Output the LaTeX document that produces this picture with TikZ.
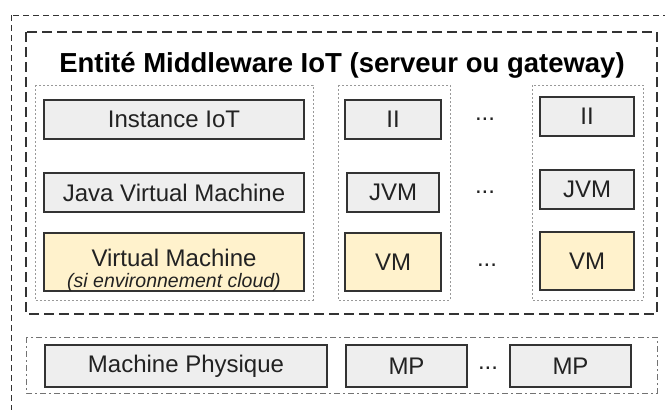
\documentclass[tikz,border=0pt]{standalone}
\usepackage{fontspec}
\setmainfont{Liberation Sans}
\definecolor{boxgray}{HTML}{EEEEEE}
\definecolor{boxyellow}{HTML}{FFF2CC}
\definecolor{edge}{HTML}{333333}
\definecolor{dotgray}{HTML}{999999}
\definecolor{ink}{HTML}{222222}
\begin{document}
\begin{tikzpicture}[x=1pt,y=-1pt,
  gbox/.style={draw=edge,line width=1.3pt,fill=boxgray,inner sep=0pt,font=\fontsize{24}{26}\selectfont,text=ink},
  ybox/.style={gbox,fill=boxyellow},
  colbox/.style={draw=dotgray,line width=0.9pt,dash pattern=on 2pt off 2pt},
  dots/.style={font=\fontsize{24}{26}\selectfont,text=ink,inner sep=0pt,anchor=base}]
\useasboundingbox (0,0) rectangle (665,410);
\clip (0,0) rectangle (665,410);
% outer dashed box (extends past the picture)
\draw[edge,line width=1pt,dash pattern=on 6pt off 4pt] (11,15) rectangle (690,440);
% inner dashed box
\draw[edge,line width=1.4pt,dash pattern=on 10pt off 5pt] (26,32) rectangle (657,314);
\node[font=\bfseries\fontsize{27.5}{30}\selectfont,inner sep=0pt,anchor=base,text=black] (title) at (342,72) {Entité Middleware IoT (serveur ou gateway)};
% dotted columns
\draw[colbox] (35,85) rectangle (313,300);
\draw[colbox] (338,85) rectangle (450,300);
\draw[colbox] (532,85) rectangle (643,300);
% column 1
\node[gbox,minimum width=260pt,minimum height=39pt] (ii1) at (174,119.5) {Instance IoT};
\node[gbox,minimum width=260pt,minimum height=39pt] (jvm1) at (174,192.5) {Java Virtual Machine};
\node[ybox,minimum width=260pt,minimum height=58pt] (vm1) at (174,262) {};
\node[inner sep=0pt,anchor=base,text=ink,font=\fontsize{24}{26}\selectfont,text depth=0pt] (vm1a) at (174,266) {Virtual Machine};
\node[inner sep=0pt,anchor=base,text=ink,font=\fontsize{19.5}{22}\selectfont\itshape,text height=14pt] (vm1b) at (174,287.5) {(si environnement cloud)};
% column 2
\node[gbox,minimum width=96pt,minimum height=39pt] (ii2) at (393,119.5) {II};
\node[gbox,minimum width=92pt,minimum height=39pt] (jvm2) at (393,192.5) {JVM};
\node[ybox,minimum width=96pt,minimum height=58pt] (vm2) at (393,262) {VM};
% column 3
\node[gbox,minimum width=94pt,minimum height=39pt] (ii3) at (587,116.5) {II};
\node[gbox,minimum width=94pt,minimum height=39pt] (jvm3) at (587,189.5) {JVM};
\node[ybox,minimum width=94pt,minimum height=58pt] (vm3) at (587,261) {VM};
% ellipses
\node[dots] (d1) at (485,120) {...};
\node[dots] (d2) at (485,193) {...};
\node[dots] (d3) at (487,266) {...};
% bottom physical machines
\draw[draw=black!55,line width=0.9pt,dash pattern=on 6pt off 3pt on 2pt off 3pt] (26,337) rectangle (657,393);
\node[gbox,minimum width=282pt,minimum height=42pt] (mp1) at (186,366) {Machine Physique};
\node[gbox,minimum width=121pt,minimum height=42pt] (mp2) at (406.5,366) {MP};
\node[gbox,minimum width=121pt,minimum height=42pt] (mp3) at (570.5,366) {MP};
\node[dots] (d4) at (488,369) {...};
\end{tikzpicture}
\end{document}
